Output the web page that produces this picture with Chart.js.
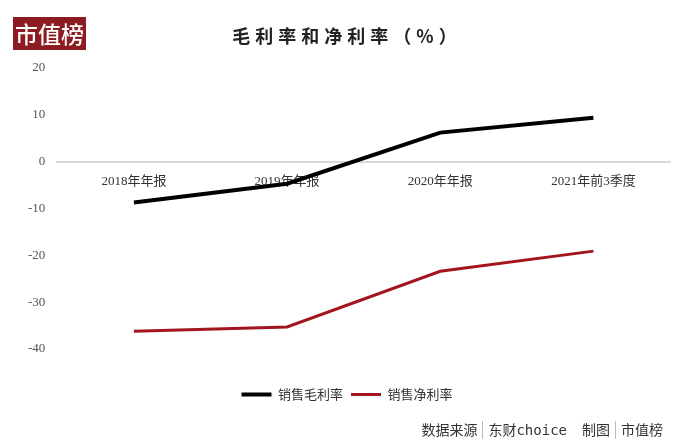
<!DOCTYPE html>
<html>
<head>
<meta charset="utf-8">
<script src="https://cdn.jsdelivr.net/npm/chart.js@4/dist/chart.umd.min.js"></script>
<style>
  html, body { margin: 0; padding: 0; background: #fff; }
  #wrap { position: relative; width: 684px; height: 442px; overflow: hidden; }
  #chart { position: absolute; left: 0; top: 0; }
  .logo {
    position: absolute; left: 13px; top: 17px; width: 73px; height: 33px;
    background: #8c1c22; color: #fff; font: 500 23px 'Noto Sans CJK SC';
    line-height: 33px; text-align: center; letter-spacing: 0;
  }
  .title {
    position: absolute; left: 5px; width: 684px; top: 22px; text-align: center;
    font: bold 18px 'Noto Sans CJK SC'; letter-spacing: 5px; color: #222;
  }
  .source {
    position: absolute; right: 21px; top: 419px; font: 14px 'Noto Sans CJK SC';
    color: #333; white-space: nowrap;
  }
  .source .sep { display: inline-block; width: 1px; height: 18px; background: #bbb; vertical-align: -4px; margin: 0 5px; }
  .source .en { font-family: 'DejaVu Sans Mono'; font-size: 14px; }
  .source .gap { display: inline-block; width: 15px; }
</style>
</head>
<body>
<div id="wrap">
  <canvas id="chart" width="684" height="442"></canvas>
  <div class="logo">市值榜</div>
  <div class="title">毛利率和净利率（%）</div>
  <div class="source">数据来源<span class="sep"></span>东财<span class="en">choice</span><span class="gap"></span>制图<span class="sep"></span>市值榜</div>
</div>
<script>
const periods = ['2018年年报', '2019年年报', '2020年年报', '2021年前3季度'];
const grossMargin = [-8.7, -4.7, 6.2, 9.4];
const netMargin = [-36.2, -35.3, -23.4, -19.1];
const yMin = -40, yMax = 20, yStep = 10;

new Chart(document.getElementById('chart'), {
  type: 'line',
  data: {
    labels: periods,
    datasets: [
      { label: '销售毛利率', data: grossMargin, borderColor: '#000', backgroundColor: '#000', borderWidth: 4, pointRadius: 0, tension: 0 },
      { label: '销售净利率', data: netMargin, borderColor: '#a3151e', backgroundColor: '#a3151e', borderWidth: 3, pointRadius: 0, tension: 0 }
    ]
  },
  options: {
    responsive: false,
    animation: false,
    layout: { padding: { top: 68, left: 24, right: 14, bottom: 31 } },
    plugins: {
      legend: {
        position: 'bottom',
        labels: {
          usePointStyle: true, pointStyle: 'line', pointStyleWidth: 30, padding: 8,
          color: '#333', font: { size: 13, family: 'Noto Sans CJK SC' }
        }
      },
      tooltip: { enabled: false }
    },
    scales: {
      x: {
        position: { y: 0 },
        offset: true,
        grid: { display: false },
        border: { display: true, color: '#d9d9d9', width: 2 },
        ticks: { color: '#333', padding: 4, font: { size: 13, family: "'Liberation Serif', 'Noto Sans CJK SC'" } }
      },
      // empty bottom band that keeps the legend clear of the plot
      gap: {
        type: 'category', position: 'bottom',
        grid: { display: false }, border: { display: false }, ticks: { display: false },
        afterFit: s => { s.height = 31; }
      },
      y: {
        min: yMin, max: yMax,
        grid: { display: false },
        border: { display: false },
        ticks: { stepSize: yStep, color: '#555', padding: 4, font: { size: 13, family: 'Liberation Serif' } }
      }
    }
  }
});
</script>
</body>
</html>
